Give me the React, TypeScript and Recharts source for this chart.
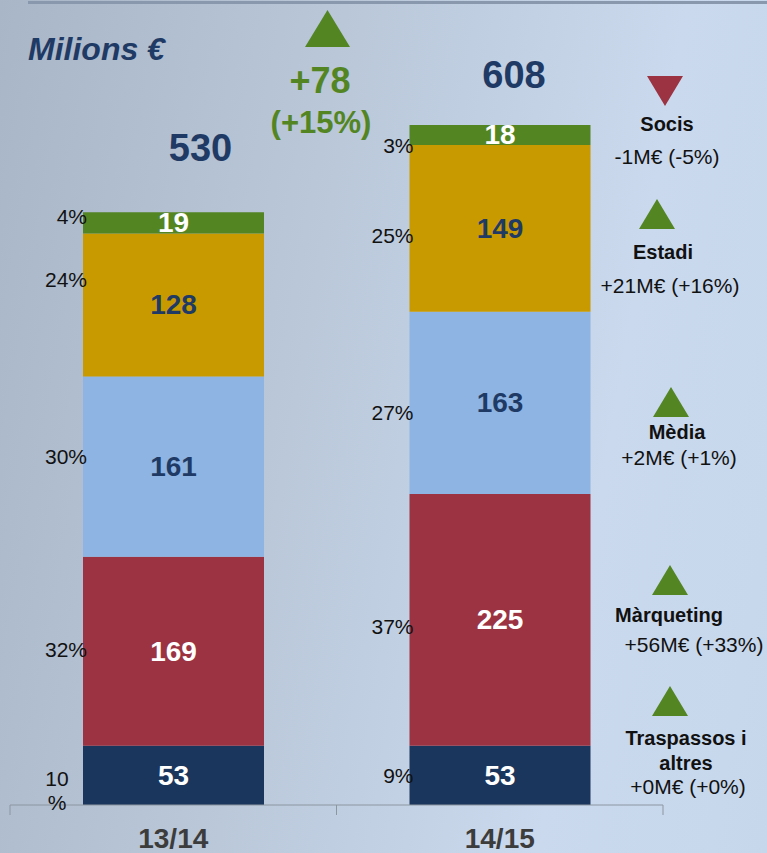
import { BarChart, Bar, XAxis, YAxis, LabelList } from 'recharts';

const seasons = ['13/14', '14/15'];
const traspassos = [53, 53];
const marqueting = [169, 225];
const media = [161, 163];
const estadi = [128, 149];
const socis = [19, 18];
const totals = [530, 608];

const traspassosPct = ['10 %', '9%'];
const marquetingPct = ['32%', '37%'];
const mediaPct = ['30%', '27%'];
const estadiPct = ['24%', '25%'];
const socisPct = ['4%', '3%'];

const totalChange = '+78';
const totalChangePct = '(+15%)';

// legend: name lines, change text, up/down
const legendNames = [['Socis'], ['Estadi'], ['Mèdia'], ['Màrqueting'], ['Traspassos i', 'altres']];
const legendChanges = ['-1M€ (-5%)', '+21M€ (+16%)', '+2M€ (+1%)', '+56M€ (+33%)', '+0M€ (+0%)'];
const legendUp = [false, true, true, true, true];

const FONT = '"Liberation Sans", Arial, sans-serif';
const NAVY = '#1a365d';
const RED = '#9b3342';
const LIGHT = '#8db4e2';
const GOLD = '#c99a00';
const GREEN = '#538523';
const TEXT_NAVY = '#1f3a64';

// layout of the side legend (triangle center x, triangle top, name y, change y)
const legendPos = [
  { tx: 665, ty: 76, nx: 667, ny: 124, cx: 667, cy: 156 },
  { tx: 657, ty: 199, nx: 663, ny: 252, cx: 670, cy: 285 },
  { tx: 671, ty: 387, nx: 677, ny: 432, cx: 679, cy: 457 },
  { tx: 670, ty: 565, nx: 669, ny: 615, cx: 694, cy: 644 },
  { tx: 670, ty: 686, nx: 686, ny: 738, cx: 688, cy: 786 },
];

const rows = seasons.map((s, i) => ({
  season: s,
  traspassos: traspassos[i],
  marqueting: marqueting[i],
  media: media[i],
  estadi: estadi[i],
  socis: socis[i],
}));

// small vertical nudges for the percent labels, per bar
const segLabel = (pcts: string[], color: string, nudge: number[] = [0, 0]) => (props: any) => {
  const { x, y, width, height, value, index } = props;
  const cy = y + height / 2;
  const py = cy + nudge[index];
  const pct = pcts[index];
  const parts = pct.split(' ');
  return (
    <g>
      <text x={x + width / 2} y={cy} textAnchor="middle" dominantBaseline="central"
        fill={color} fontSize={28} fontWeight="bold" fontFamily={FONT}>{value}</text>
      {parts.length > 1 ? (
        <text textAnchor="middle" fill="#111" fontSize={21} fontFamily={FONT}>
          <tspan x={x - 26} y={py + 3} dominantBaseline="central">{parts[0]}</tspan>
          <tspan x={x - 26} y={py + 27} dominantBaseline="central">{parts[1]}</tspan>
        </text>
      ) : (
        <text x={x + 4} y={py} textAnchor="end" dominantBaseline="central"
          fill="#111" fontSize={21} fontFamily={FONT}>{pct}</text>
      )}
    </g>
  );
};

const totalLift = [64, 50];
const totalShift = [27, 14];
const totalLabel = (props: any) => {
  const { x, y, width, index } = props;
  return (
    <text x={x + width / 2 + totalShift[index]} y={y - totalLift[index]} textAnchor="middle" dominantBaseline="central"
      fill={TEXT_NAVY} fontSize={38} fontWeight="bold" fontFamily={FONT}>{totals[index]}</text>
  );
};

const SeasonTick = (props: any) => {
  const { x, y, payload, index } = props;
  const half = payload.offset || 163;
  return (
    <g>
      {index === 0 && <line x1={x - half} x2={x - half} y1={y - 8} y2={y + 2} stroke="#8c96a0" />}
      <line x1={x + half} x2={x + half} y1={y - 8} y2={y + 2} stroke="#8c96a0" />
      <text x={x} y={y + 25} textAnchor="middle" dominantBaseline="central"
        fill="#3c3c3c" fontSize={28} fontWeight="bold" fontFamily={FONT}>{payload.value}</text>
    </g>
  );
};

const Tri = ({ cx, top, w, h, up, color }: any) => (
  <polygon
    points={up
      ? `${cx - w / 2},${top + h} ${cx + w / 2},${top + h} ${cx},${top}`
      : `${cx - w / 2},${top} ${cx + w / 2},${top} ${cx},${top + h}`}
    fill={color}
  />
);

export default function App() {
  return (
    <div style={{
      position: 'absolute', left: 0, top: 0, width: 767, height: 853, overflow: 'hidden',
      background: 'linear-gradient(100deg, #a8b6c7 0%, #bac8da 40%, #cad9ed 75%, #c6d7ec 100%)',
    }}>
      <div style={{ position: 'absolute', left: 28, top: 1, width: 739, height: 3, background: '#8a98ad' }} />
      <BarChart width={767} height={853} data={rows}
        margin={{ top: 22, right: 104, left: 10, bottom: 0 }}>
        <XAxis dataKey="season" height={48} axisLine={{ stroke: '#8c96a0' }} tickLine={false}
          tick={<SeasonTick />} interval={0} />
        <YAxis hide domain={[0, 700]} />
        <Bar dataKey="traspassos" stackId="a" fill={NAVY} barSize={181} isAnimationActive={false}>
          <LabelList dataKey="traspassos" content={segLabel(traspassosPct, '#fff')} />
        </Bar>
        <Bar dataKey="marqueting" stackId="a" fill={RED} barSize={181} isAnimationActive={false}>
          <LabelList dataKey="marqueting" content={segLabel(marquetingPct, '#fff', [-2, 7])} />
        </Bar>
        <Bar dataKey="media" stackId="a" fill={LIGHT} barSize={181} isAnimationActive={false}>
          <LabelList dataKey="media" content={segLabel(mediaPct, TEXT_NAVY, [-10, 10])} />
        </Bar>
        <Bar dataKey="estadi" stackId="a" fill={GOLD} barSize={181} isAnimationActive={false}>
          <LabelList dataKey="estadi" content={segLabel(estadiPct, TEXT_NAVY, [-25, 7])} />
        </Bar>
        <Bar dataKey="socis" stackId="a" fill={GREEN} barSize={181} isAnimationActive={false}>
          <LabelList dataKey="socis" content={segLabel(socisPct, '#fff', [-6, 11])} />
          <LabelList dataKey="socis" content={totalLabel} />
        </Bar>
      </BarChart>
      <svg width={767} height={853} style={{ position: 'absolute', left: 0, top: 0, pointerEvents: 'none' }}>
        <text x={28} y={49} dominantBaseline="central" fill={TEXT_NAVY} fontSize={32}
          fontWeight="bold" fontStyle="italic" fontFamily={FONT}>Milions €</text>
        <Tri cx={327.5} top={10} w={45} h={37} up color={GREEN} />
        <text x={320} y={80} textAnchor="middle" dominantBaseline="central" fill={GREEN}
          fontSize={36} fontWeight="bold" fontFamily={FONT}>{totalChange}</text>
        <text x={321} y={122} textAnchor="middle" dominantBaseline="central" fill={GREEN}
          fontSize={31} fontWeight="bold" fontFamily={FONT}>{totalChangePct}</text>
        {legendNames.map((lines, i) => {
          const p = legendPos[i];
          return (
            <g key={i}>
              <Tri cx={p.tx} top={p.ty} w={36} h={30} up={legendUp[i]} color={legendUp[i] ? GREEN : RED} />
              {lines.map((ln, j) => (
                <text key={j} x={p.nx} y={p.ny + j * 25} textAnchor="middle" dominantBaseline="central"
                  fill="#111" fontSize={20} fontWeight="bold" fontFamily={FONT}>{ln}</text>
              ))}
              <text x={p.cx} y={p.cy} textAnchor="middle" dominantBaseline="central"
                fill="#111" fontSize={21} fontFamily={FONT}>{legendChanges[i]}</text>
            </g>
          );
        })}
      </svg>
    </div>
  );
}
